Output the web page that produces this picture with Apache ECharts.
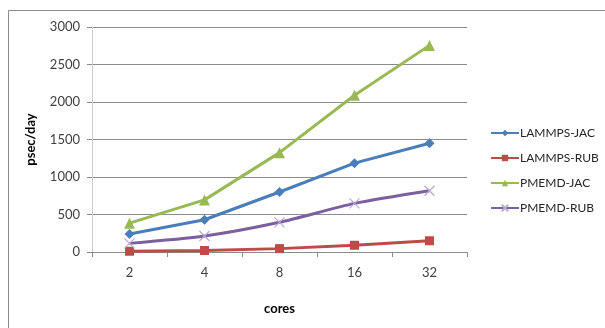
<!DOCTYPE html>
<html>
<head>
<meta charset="utf-8">
<script src="https://cdn.jsdelivr.net/npm/echarts@6/dist/echarts.min.js"></script>
<style>
  html, body { margin: 0; padding: 0; background: #fff; }
  #chart { width: 605px; height: 328px; }
</style>
</head>
<body>
<div id="chart"></div>
<script>
// Throughput (psec/day) versus number of cores
const cores = ['2', '4', '8', '16', '32'];
const lammpsJac = [240, 430, 800, 1185, 1450];
const lammpsRub = [10, 20, 45, 90, 150];
const pmemdJac = [385, 695, 1325, 2090, 2755];
const pmemdRub = [115, 213, 396, 648, 817];
const yTicks = { min: 0, max: 3000, step: 500 };

const FONT = 'Lato, "Open Sans", sans-serif';
const chart = echarts.init(document.getElementById('chart'));

const crossPath = 'path://M0,0L10,10M10,0L0,10';

chart.setOption({
  animation: false,
  textStyle: { fontFamily: FONT },
  graphic: [{
    type: 'rect',
    shape: { x: 8.5, y: 10.5, width: 640, height: 340 },
    style: { fill: 'none', stroke: '#8a8a8a', lineWidth: 1 },
    silent: true
  }],
  grid: { left: 92, top: 27, width: 375, height: 225 },
  legend: {
    orient: 'vertical',
    left: 485,
    top: 122,
    itemWidth: 28,
    itemHeight: 8,
    itemGap: 13,
    textStyle: { fontFamily: FONT, fontSize: 12, color: '#262626', padding: [0, 0, 0, -4] },
    data: ['LAMMPS-JAC', 'LAMMPS-RUB', 'PMEMD-JAC', 'PMEMD-RUB']
  },
  xAxis: {
    type: 'category',
    data: cores,
    boundaryGap: true,
    name: 'cores',
    nameLocation: 'middle',
    nameGap: 50,
    nameTextStyle: { fontFamily: FONT, fontSize: 13, fontWeight: 'bold', color: '#000' },
    axisLine: { lineStyle: { color: '#8c8c8c', width: 1 } },
    axisTick: { show: true, length: 5, alignWithLabel: false, lineStyle: { color: '#8c8c8c' } },
    axisLabel: { fontFamily: FONT, fontSize: 13, color: '#404040', margin: 14 }
  },
  yAxis: {
    type: 'value',
    min: yTicks.min,
    max: yTicks.max,
    interval: yTicks.step,
    name: 'psec/day',
    nameLocation: 'middle',
    nameGap: 55,
    nameRotate: 90,
    nameTextStyle: { fontFamily: FONT, fontSize: 13, fontWeight: 'bold', color: '#000' },
    axisLine: { show: true, lineStyle: { color: '#cfcfcf', width: 1 } },
    axisTick: { show: true, length: 5, inside: false, lineStyle: { color: '#8c8c8c' } },
    axisLabel: { fontFamily: FONT, fontSize: 13, color: '#404040', margin: 12, formatter: v => String(v) },
    splitLine: { lineStyle: { color: '#8c8c8c', width: 1 } }
  },
  series: [
    {
      name: 'LAMMPS-JAC', type: 'line', data: lammpsJac,
      symbol: 'diamond', symbolSize: 10,
      lineStyle: { color: '#4A7EBB', width: 3 },
      itemStyle: { color: '#4A7EBB' }
    },
    {
      name: 'LAMMPS-RUB', type: 'line', data: lammpsRub,
      symbol: 'rect', symbolSize: 9,
      lineStyle: { color: '#BE4B48', width: 3 },
      itemStyle: { color: '#BE4B48' }
    },
    {
      name: 'PMEMD-JAC', type: 'line', data: pmemdJac,
      symbol: 'triangle', symbolSize: 11,
      lineStyle: { color: '#98B954', width: 3 },
      itemStyle: { color: '#98B954' }
    },
    {
      name: 'PMEMD-RUB', type: 'line', data: pmemdRub,
      smooth: 0.25,
      symbol: crossPath, symbolSize: 10,
      lineStyle: { color: '#7D5FA0', width: 3 },
      itemStyle: { color: '#7D5FA0', borderColor: '#B7A8D3', borderWidth: 1.2 }
    }
  ]
});
</script>
</body>
</html>
